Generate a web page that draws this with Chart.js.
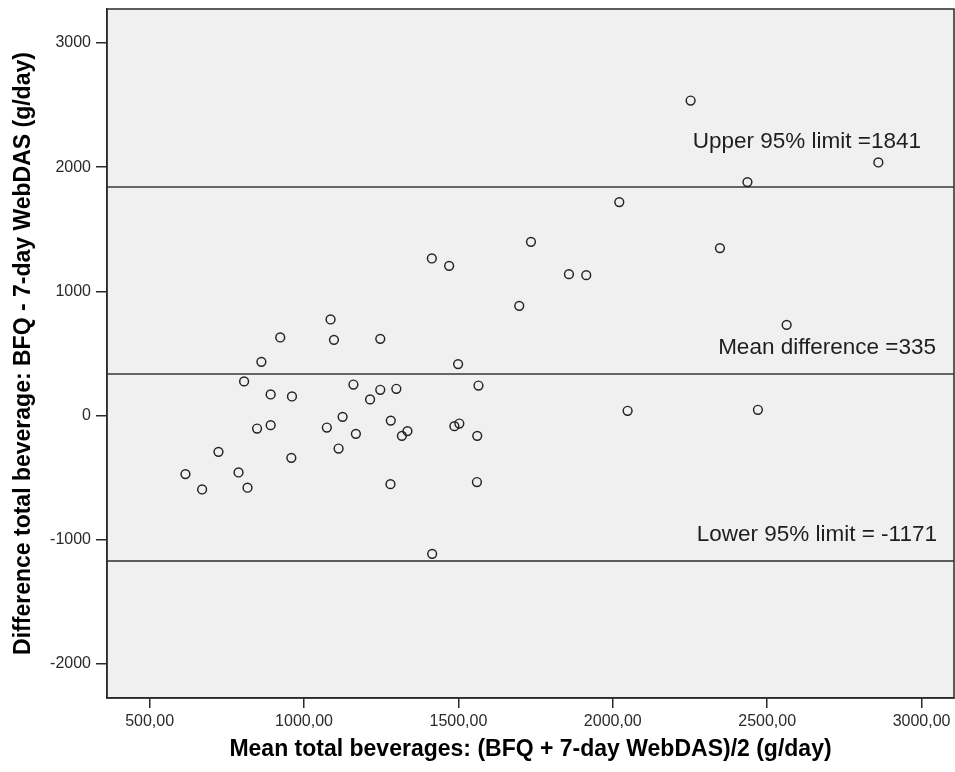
<!DOCTYPE html>
<html>
<head>
<meta charset="utf-8">
<script src="https://cdn.jsdelivr.net/npm/chart.js@4.4.1/dist/chart.umd.min.js"></script>
<style>
  html, body { margin: 0; padding: 0; background: #ffffff; }
  #wrap { width: 955px; height: 772px; position: relative; }
</style>
</head>
<body>
<div id="wrap"><canvas id="c" width="955" height="772"></canvas></div>
<script>
// ---- data ----
const meanValues = [
  1086, 923, 1097, 1247, 862, 1499, 806, 1160, 1565, 892,
  961, 1247, 1299, 1214, 1125, 848, 892, 1074, 1281, 1168,
  1317, 1335, 1487, 1503, 1561, 723, 1112, 959, 616, 670,
  788, 817, 1280, 1560, 1415, 2252, 2860, 2436, 2021, 2347,
  1735, 1414, 1470, 1858, 1914, 1697, 2563, 2048, 2470
];
const diffValues = [
  774, 629, 610, 618, 433, 415, 275, 250, 242, 170,
  154, 208, 216, 130, -10, -104, -77, -96, -40, -147,
  -163, -125, -85, -64, -163, -292, -265, -340, -471, -595,
  -458, -581, -552, -535, -1113, 2537, 2038, 1880, 1719, 1349,
  1399, 1265, 1206, 1139, 1131, 884, 731, 39, 47
];
const xTickValues = [500, 1000, 1500, 2000, 2500, 3000];
const xTickLabels = ['500,00', '1000,00', '1500,00', '2000,00', '2500,00', '3000,00'];
const yTickValues = [-2000, -1000, 0, 1000, 2000, 3000];
const yTickLabels = ['-2000', '-1000', '0', '1000', '2000', '3000'];
const xRange = [362, 3105];
const yRange = [-2274, 3274];
const refValues = [1841, 335, -1171];
const refLabels = ['Upper 95% limit =1841', 'Mean difference =335', 'Lower 95% limit = -1171'];
const xTitle = 'Mean total beverages: (BFQ + 7-day WebDAS)/2 (g/day)';
const yTitle = 'Difference total beverage: BFQ - 7-day WebDAS (g/day)';

// ---- styles ----
const FONT = "Arial, 'Liberation Sans', sans-serif";
const refColors = ['#666666', '#666666', '#2e2e2e'];
const refWidths = [2, 2, 1.6];
const labelRightOffset = [33, 18, 17];
const labelBaselineOffset = [39, 20, 20];

const points = meanValues.map((m, i) => ({ x: m, y: diffValues[i] }));

const datasets = [{
  type: 'scatter',
  data: points,
  pointStyle: 'circle',
  pointRadius: 4.4,
  pointHoverRadius: 4.4,
  borderWidth: 1.45,
  borderColor: '#222222',
  backgroundColor: 'rgba(0,0,0,0)'
}];
refValues.forEach((v, i) => {
  datasets.push({
    type: 'line',
    data: [{ x: xRange[0], y: v }, { x: xRange[1], y: v }],
    borderColor: refColors[i],
    borderWidth: refWidths[i],
    pointRadius: 0,
    fill: false
  });
});

const framePlugin = {
  id: 'frame',
  beforeDraw(chart) {
    const { ctx, chartArea: a } = chart;
    ctx.save();
    ctx.fillStyle = '#f0f0f0';
    ctx.fillRect(a.left, a.top, a.right - a.left, a.bottom - a.top);
    ctx.restore();
  },
  afterDatasetsDraw(chart) {
    const { ctx, chartArea: a } = chart;
    const ys = chart.scales.y;
    ctx.save();
    ctx.font = '22.5px ' + FONT;
    ctx.fillStyle = '#1e1e1e';
    ctx.textAlign = 'right';
    ctx.textBaseline = 'alphabetic';
    refValues.forEach((v, i) => {
      const py = ys.getPixelForValue(v);
      ctx.fillText(refLabels[i], a.right - labelRightOffset[i], py - labelBaselineOffset[i]);
    });
    ctx.strokeStyle = '#2a2a2a';
    ctx.lineWidth = 1.5;
    ctx.strokeRect(a.left, a.top, a.right - a.left, a.bottom - a.top);
    ctx.restore();
  }
};

new Chart(document.getElementById('c'), {
  data: { datasets },
  options: {
    responsive: false,
    animation: false,
    devicePixelRatio: 1,
    layout: { autoPadding: false, padding: { top: 9, right: 1, left: 0, bottom: 0 } },
    plugins: { legend: { display: false }, tooltip: { enabled: false } },
    scales: {
      x: {
        type: 'linear',
        min: xRange[0],
        max: xRange[1],
        afterBuildTicks: (s) => { s.ticks = xTickValues.map(v => ({ value: v })); },
        afterFit: (s) => { s.height = 74; s.paddingLeft = 0; s.paddingRight = 0; },
        ticks: {
          autoSkip: false,
          maxRotation: 0,
          padding: 4,
          color: '#2a2a2a',
          font: { family: FONT, size: 16 },
          callback: (v, i) => xTickLabels[i]
        },
        grid: { drawOnChartArea: false, drawTicks: true, tickLength: 10, color: '#2a2a2a', lineWidth: 1.5 },
        border: { display: true, color: '#2a2a2a', width: 1.5 },
        title: {
          display: true,
          text: xTitle,
          color: '#000',
          font: { family: FONT, size: 23, weight: 'bold' },
          padding: { top: 0, bottom: 9 }
        }
      },
      y: {
        type: 'linear',
        min: yRange[0],
        max: yRange[1],
        afterBuildTicks: (s) => { s.ticks = yTickValues.map(v => ({ value: v })); },
        afterFit: (s) => { s.width = 107; s.paddingTop = 0; s.paddingBottom = 0; },
        ticks: {
          autoSkip: false,
          padding: 5,
          color: '#2a2a2a',
          font: { family: FONT, size: 16 },
          callback: (v, i) => yTickLabels[i]
        },
        grid: { drawOnChartArea: false, drawTicks: true, tickLength: 11, color: '#2a2a2a', lineWidth: 1.5 },
        border: { display: true, color: '#2a2a2a', width: 1.5 },
        title: {
          display: true,
          text: yTitle,
          color: '#000',
          font: { family: FONT, size: 23, weight: 'bold' },
          padding: { top: 10, bottom: 0 }
        }
      }
    }
  },
  plugins: [framePlugin]
});
</script>
</body>
</html>
